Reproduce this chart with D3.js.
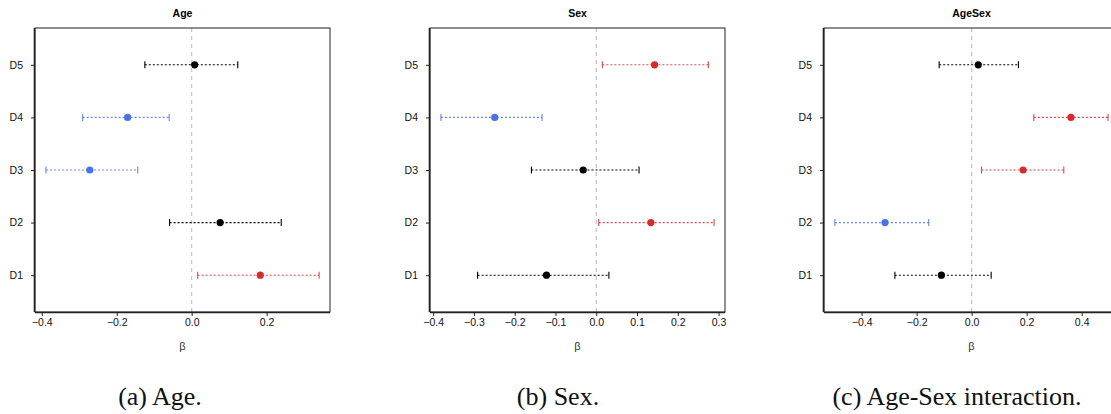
<!DOCTYPE html>
<html>
<head>
<meta charset="utf-8">
<script src="https://cdn.jsdelivr.net/npm/d3@7"></script>
<style>
  html, body { margin: 0; padding: 0; background: #fff; }
  svg { display: block; }
</style>
</head>
<body>
<svg id="chart" width="1111" height="414"></svg>
<script>
// ---- data ----
const rows = ["D1", "D2", "D3", "D4", "D5"];
const panelTitles = ["Age", "Sex", "AgeSex"];
const captions = ["(a) Age.", "(b) Sex.", "(c) Age-Sex interaction."];

const ageEst = [0.183, 0.076, -0.272, -0.171, 0.008];
const ageLo  = [0.016, -0.059, -0.389, -0.291, -0.125];
const ageHi  = [0.340, 0.239, -0.144, -0.060, 0.123];

const sexEst = [-0.122, 0.134, -0.032, -0.249, 0.143];
const sexLo  = [-0.291, 0.006, -0.159, -0.381, 0.015];
const sexHi  = [0.031, 0.289, 0.105, -0.133, 0.275];

const ageSexEst = [-0.110, -0.315, 0.187, 0.361, 0.024];
const ageSexLo  = [-0.279, -0.497, 0.036, 0.226, -0.118];
const ageSexHi  = [0.071, -0.156, 0.335, 0.496, 0.170];

const ticksAge    = [-0.4, -0.2, 0.0, 0.2];
const ticksSex    = [-0.4, -0.3, -0.2, -0.1, 0.0, 0.1, 0.2, 0.3];
const ticksAgeSex = [-0.4, -0.2, 0.0, 0.2, 0.4];

const xLabel = "β";

// ---- layout ----
const panels = [
  { title: panelTitles[0], est: ageEst, lo: ageLo, hi: ageHi, ticks: ticksAge, x0: 35, caption: captions[0], capX: 160 },
  { title: panelTitles[1], est: sexEst, lo: sexLo, hi: sexHi, ticks: ticksSex, x0: 430, caption: captions[1], capX: 558 },
  { title: panelTitles[2], est: ageSexEst, lo: ageSexLo, hi: ageSexHi, ticks: ticksAgeSex, x0: 824, caption: captions[2], capX: 957 }
];
const plotW = 295, plotTop = 28, plotBottom = 312;
const RED = "#d62a2e", BLUE = "#4a72ec", BLACK = "#000";
const fmt = d3.format(".1f");

const svg = d3.select("#chart");

const y = d3.scaleLinear().domain([0.3, 5.7]).range([plotBottom, plotTop]);

panels.forEach(p => {
  const lo = d3.min(p.lo), hi = d3.max(p.hi);
  const pad = 0.04 * (hi - lo);
  const x = d3.scaleLinear().domain([lo - pad, hi + pad]).range([p.x0, p.x0 + plotW]);
  const g = svg.append("g");

  // zero line
  g.append("line")
    .attr("x1", x(0)).attr("x2", x(0)).attr("y1", plotTop).attr("y2", plotBottom)
    .attr("stroke", "#c4c4c4").attr("stroke-width", 1.2).attr("stroke-dasharray", "4,4");

  const data = rows.map((r, i) => ({ r, i, est: p.est[i], lo: p.lo[i], hi: p.hi[i] }));
  const col = d => d.lo > 0 ? RED : (d.hi < 0 ? BLUE : BLACK);

  const bars = g.selectAll(".bar").data(data).enter().append("g");
  bars.append("line")
    .attr("x1", d => x(d.lo)).attr("x2", d => x(d.hi))
    .attr("y1", d => y(d.i + 1)).attr("y2", d => y(d.i + 1))
    .attr("stroke", col).attr("stroke-opacity", d => col(d) === BLACK ? 1 : 0.85)
    .attr("stroke-width", 1.1).attr("stroke-dasharray", "2,2");
  ["lo", "hi"].forEach(k => {
    bars.append("line")
      .attr("x1", d => x(d[k])).attr("x2", d => x(d[k]))
      .attr("y1", d => y(d.i + 1) - 3.5).attr("y2", d => y(d.i + 1) + 3.5)
      .attr("stroke", col).attr("stroke-opacity", d => col(d) === BLACK ? 1 : 0.85)
      .attr("stroke-width", 1.1);
  });
  bars.append("circle")
    .attr("cx", d => x(d.est)).attr("cy", d => y(d.i + 1)).attr("r", 3.6)
    .attr("fill", col);

  // box
  g.append("rect")
    .attr("x", p.x0).attr("y", plotTop).attr("width", plotW).attr("height", plotBottom - plotTop)
    .attr("fill", "none").attr("stroke", "#222").attr("stroke-width", 1);

  // x axis
  const xa = g.append("g").attr("transform", `translate(0,${plotBottom})`)
    .call(d3.axisBottom(x).tickValues(p.ticks).tickFormat(fmt).tickSize(4).tickPadding(3));
  xa.select(".domain").attr("d", `M${p.x0},0.5H${p.x0 + plotW}`).attr("stroke", "#222").attr("stroke-width", 1.6);
  xa.selectAll(".tick line").attr("stroke", "#222");
  xa.selectAll("text").attr("font-family", "Liberation Sans, Arial, sans-serif").attr("font-size", 10.5).attr("fill", "#111");

  // y axis
  const ya = g.append("g").attr("transform", `translate(${p.x0},0)`)
    .call(d3.axisLeft(y).tickValues([1, 2, 3, 4, 5]).tickFormat(v => rows[v - 1]).tickSize(4).tickPadding(8));
  ya.select(".domain").attr("d", `M-0.5,${plotTop}V${plotBottom}`).attr("stroke", "#222").attr("stroke-width", 1.6);
  ya.selectAll(".tick line").attr("stroke", "#222");
  ya.selectAll("text").attr("font-family", "Liberation Sans, Arial, sans-serif").attr("font-size", 10.5).attr("fill", "#111");

  // title
  g.append("text").attr("x", p.x0 + plotW / 2).attr("y", 17)
    .attr("text-anchor", "middle").attr("font-family", "Liberation Sans, Arial, sans-serif")
    .attr("font-weight", "bold").attr("font-size", 10.5).text(p.title);

  // x label
  g.append("text").attr("x", p.x0 + plotW / 2).attr("y", 350)
    .attr("text-anchor", "middle").attr("font-family", "Liberation Sans, Arial, sans-serif")
    .attr("font-size", 11).attr("fill", "#333").text(xLabel);

  // caption
  g.append("text").attr("x", p.capX).attr("y", 405)
    .attr("text-anchor", "middle").attr("font-family", "Liberation Serif, Times New Roman, serif")
    .attr("font-size", 26).attr("fill", "#111").text(p.caption);
});
</script>
</body>
</html>
